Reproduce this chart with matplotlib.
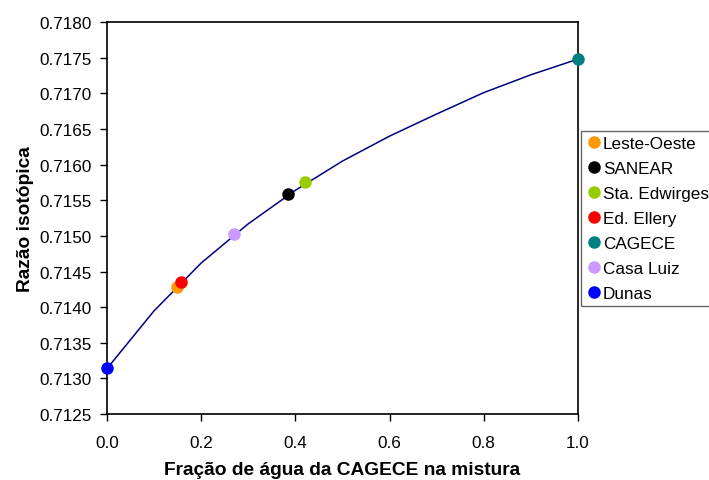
import matplotlib
matplotlib.use("Agg")
import matplotlib.pyplot as plt

plt.rcParams['font.family'] = ['Liberation Sans', 'DejaVu Sans']

# mixing curve
frac = [0.0, 0.1, 0.2, 0.3, 0.4, 0.5, 0.6, 0.7, 0.8, 0.9, 1.0]
ratio = [0.71314, 0.71395, 0.71462, 0.71517, 0.71564, 0.71605,
         0.71640, 0.71671, 0.71701, 0.71726, 0.71748]

# sampled waters
names = ['Leste-Oeste', 'SANEAR', 'Sta. Edwirges', 'Ed. Ellery',
         'CAGECE', 'Casa Luiz', 'Dunas']
pt_frac = [0.148, 0.385, 0.420, 0.156, 1.0, 0.270, 0.0]
pt_ratio = [0.71429, 0.71559, 0.71575, 0.71435, 0.71748, 0.71503, 0.71314]
colors = ['#FF9900', '#000000', '#99CC00', '#FF0000', '#008080',
          '#CC99FF', '#0000FF']

yticks = [0.7125, 0.7130, 0.7135, 0.7140, 0.7145, 0.7150, 0.7155,
          0.7160, 0.7165, 0.7170, 0.7175, 0.7180]
xticks = [0.0, 0.2, 0.4, 0.6, 0.8, 1.0]

fig = plt.figure(figsize=(7.09, 4.81), dpi=100)
ax = fig.add_axes([0.151, 0.137, 0.664, 0.815])

ax.plot(frac, ratio, color='#000080', lw=1.1, zorder=2)
for n, fx, fy, c in zip(names, pt_frac, pt_ratio, colors):
    ax.plot(fx, fy, 'o', color=c, ms=8, label=n, zorder=3, clip_on=False)

ax.set_xlim(0, 1)
ax.set_ylim(0.7125, 0.7180)
ax.set_xticks(xticks)
ax.set_xticklabels(['%.1f' % v for v in xticks])
ax.set_yticks(yticks)
ax.set_yticklabels(['%.4f' % v for v in yticks])
ax.tick_params(direction='out', length=5, width=1, labelsize=12.3)
ax.tick_params(axis='x', pad=10)
ax.tick_params(axis='y', pad=6)
for s in ax.spines.values():
    s.set_linewidth(1.2)

ax.set_xlabel('Fração de água da CAGECE na mistura', fontsize=13.8,
              fontweight='bold', labelpad=8)
ax.set_ylabel('Razão isotópica', fontsize=13.8, fontweight='bold', labelpad=4)

leg = fig.legend(loc='upper left', bbox_to_anchor=(0.819, 0.725),
                 fontsize=12.3, frameon=True, fancybox=False,
                 handletextpad=0.0, handlelength=1.0, borderpad=0.3,
                 labelspacing=0.58, borderaxespad=0)
leg.get_frame().set_edgecolor('#404040')
leg.get_frame().set_linewidth(1.0)

fig.savefig('out.png', dpi=100)
